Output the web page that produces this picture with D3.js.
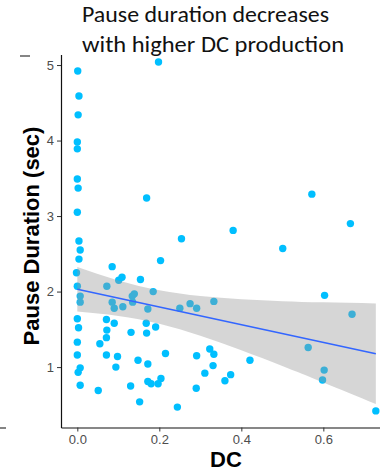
<!doctype html>
<html lang="en">
  <head>
    <meta charset="UTF-8" />
    <title>Pause duration vs DC</title>
    <script src="https://unpkg.com/d3@7.9.0/dist/d3.min.js"></script>
    <style>
      body {
        margin: 0;
        overflow: hidden;
        background: #fff;
      }
      .tick text {
        font-family: Arial, 'Liberation Sans', sans-serif;
        font-size: 13px;
        fill: #4d4d4d;
      }
      .tick line {
        stroke: #333;
      }
      .axis-label {
        font-family: Arial, 'Liberation Sans', sans-serif;
        font-weight: bold;
        font-size: 22px;
        fill: #000;
      }
      .title {
        font-family: Carlito, Lato, 'Open Sans', sans-serif;
        font-size: 22px;
        fill: #111;
      }
    </style>
  </head>
  <body>
    <svg width="380" height="471"></svg>

    <script>
      // DC production per participant and mean pause duration (sec)
      const dc = [
        0.001, 0.004, 0.002, 0.0, 0.0, 0.0, 0.002, 0.0, 0.004, 0.007,
        0.004, -0.002, 0.0, 0.007, 0.007, 0.0, 0.003, 0.0, 0.0, 0.007,
        0.002, 0.007, 0.051, 0.055, 0.071, 0.072, 0.071, 0.071, 0.072, 0.085,
        0.085, 0.09, 0.09, 0.094, 0.098, 0.101, 0.109, 0.111, 0.13, 0.131,
        0.134, 0.135, 0.139, 0.148, 0.152, 0.154, 0.168, 0.169, 0.169, 0.172,
        0.172, 0.172, 0.18, 0.185, 0.191, 0.197, 0.198, 0.203, 0.204, 0.215,
        0.244, 0.25, 0.254, 0.275, 0.29, 0.291, 0.291, 0.311, 0.323, 0.331,
        0.333, 0.333, 0.36, 0.374, 0.38, 0.421, 0.501, 0.563, 0.572, 0.598,
        0.602, 0.603, 0.666, 0.67, 0.728,
      ];
      const pause = [
        4.92, 4.59, 4.34, 3.98, 3.89, 3.49, 3.37, 3.05, 2.67, 2.55,
        2.43, 2.25, 2.07, 1.94, 1.86, 1.64, 1.52, 1.33, 1.16, 0.99,
        0.93, 0.76, 0.69, 1.31, 1.63, 1.49, 1.39, 1.16, 2.07, 2.33,
        1.86, 1.78, 1.58, 1.0, 1.14, 2.15, 2.19, 1.8, 0.75, 1.46,
        1.94, 1.86, 1.97, 1.09, 0.54, 2.16, 1.58, 3.24, 1.45, 1.77,
        1.04, 0.81, 0.78, 2.0, 1.53, 0.78, 5.04, 2.41, 0.85, 1.18,
        0.47, 1.78, 2.7, 1.84, 0.72, 1.78, 1.15, 0.92, 1.24, 1.02,
        1.87, 1.17, 0.82, 0.9, 2.81, 1.09, 2.57, 1.26, 3.29, 0.83,
        0.96, 1.95, 2.9, 1.7, 0.42,
      ];

      // linear fit and its confidence band
      const fitX = [0, 0.728];
      const fitY = [2.03, 1.177];
      const bandX = [0, 0.1, 0.2, 0.3, 0.4, 0.5, 0.6, 0.728];
      const bandLo = [1.735, 1.678, 1.575, 1.416, 1.224, 1.015, 0.797, 0.512];
      const bandHi = [2.325, 2.148, 2.017, 1.94, 1.898, 1.873, 1.857, 1.842];

      const xTicks = [0, 0.2, 0.4, 0.6];
      const yTicks = [1, 2, 3, 4, 5];
      const titleLines = ['Pause duration decreases', 'with higher DC production'];

      const svg = d3.select('svg');

      const x = d3.scaleLinear().domain([-0.0398, 0.765]).range([61, 391]);
      const y = d3.scaleLinear().domain([0.2, 5.26]).range([427.5, 45.4]);

      const points = dc.map((d, i) => ({ dc: d, pause: pause[i] }));

      // axes
      const gx = svg
        .append('g')
        .attr('transform', `translate(0,${y.range()[0]})`)
        .call(
          d3
            .axisBottom(x)
            .tickValues(xTicks)
            .tickFormat(d3.format('.1f'))
            .tickSize(4)
            .tickSizeOuter(0)
            .tickPadding(3),
        );
      const gy = svg
        .append('g')
        .attr('transform', `translate(${x.range()[0]},0)`)
        .call(
          d3
            .axisLeft(y)
            .tickValues(yTicks)
            .tickFormat(d3.format('d'))
            .tickSize(4)
            .tickSizeOuter(0)
            .tickPadding(3),
        );
      svg.selectAll('.domain').attr('stroke', '#111').attr('stroke-width', 1.2);
      gx.selectAll('text').attr('font-family', null).attr('font-size', null);
      gy.selectAll('text').attr('font-family', null).attr('font-size', null);

      // points
      svg
        .append('g')
        .selectAll('circle')
        .data(points)
        .enter()
        .append('circle')
        .attr('cx', (d) => x(d.dc))
        .attr('cy', (d) => y(d.pause))
        .attr('r', 3.7)
        .attr('fill', '#00bfff');

      // confidence band
      const band = d3
        .area()
        .x((d, i) => x(bandX[i]))
        .y0((d, i) => y(bandLo[i]))
        .y1((d, i) => y(bandHi[i]))
        .curve(d3.curveNatural);
      svg
        .append('path')
        .datum(bandX)
        .attr('d', band)
        .attr('fill', '#999999')
        .attr('fill-opacity', 0.4);

      // fit line
      const line = d3
        .line()
        .x((d, i) => x(fitX[i]))
        .y((d, i) => y(fitY[i]));
      svg
        .append('path')
        .datum(fitX)
        .attr('d', line)
        .attr('fill', 'none')
        .attr('stroke', '#3366ff')
        .attr('stroke-width', 1.5);

      // axis titles
      svg
        .append('text')
        .attr('class', 'axis-label')
        .attr('x', 226)
        .attr('y', 467)
        .attr('text-anchor', 'middle')
        .text('DC');
      svg
        .append('text')
        .attr('class', 'axis-label')
        .attr('transform', 'translate(39,236) rotate(-90)')
        .attr('text-anchor', 'middle')
        .text('Pause Duration (sec)');

      // title box sits over the top of the panel
      svg
        .append('rect')
        .attr('x', 0)
        .attr('y', 0)
        .attr('width', 380)
        .attr('height', 55)
        .attr('fill', '#fff');
      const titleWidths = [247, 262];
      svg
        .selectAll('.title')
        .data(titleLines)
        .enter()
        .append('text')
        .attr('class', 'title')
        .attr('x', 82)
        .attr('y', (d, i) => 22 + i * 30)
        .attr('textLength', (d, i) => titleWidths[i])
        .attr('lengthAdjust', 'spacingAndGlyphs')
        .text((d) => d);

      // leftover marks of the neighbouring panel
      svg.append('line').attr('x1', 20).attr('x2', 30).attr('y1', 56).attr('y2', 56)
        .attr('stroke', '#333').attr('stroke-width', 1.2);
      svg.append('line').attr('x1', 0).attr('x2', 6).attr('y1', 428).attr('y2', 428)
        .attr('stroke', '#333').attr('stroke-width', 1.2);
    </script>
  </body>
</html>
